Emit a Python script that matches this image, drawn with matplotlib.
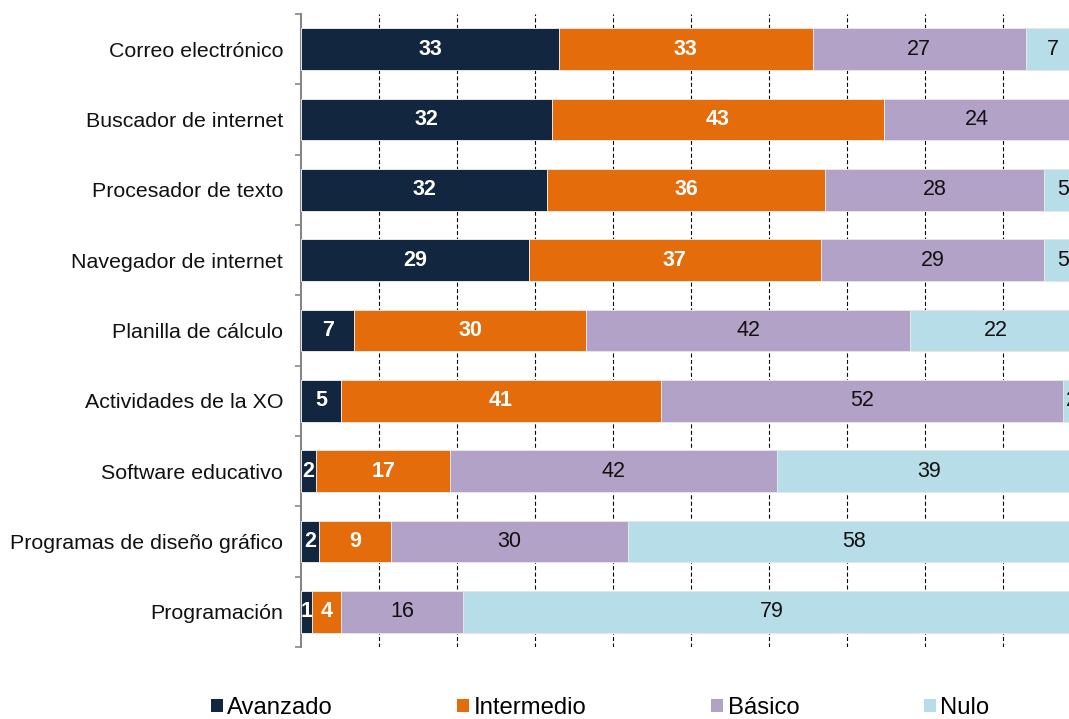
import matplotlib
matplotlib.use("Agg")
import matplotlib.pyplot as plt
import numpy as np
from matplotlib.patches import Patch

plt.rcParams['font.family'] = ['Liberation Sans', 'DejaVu Sans']

categories = ["Correo electrónico", "Buscador de internet", "Procesador de texto",
              "Navegador de internet", "Planilla de cálculo", "Actividades de la XO",
              "Software educativo", "Programas de diseño gráfico", "Programación"]
series_names = ["Avanzado", "Intermedio", "Básico", "Nulo"]
avanzado   = [33.0, 32.1, 31.5, 29.2, 6.8, 5.1, 1.9, 2.3, 1.4]
intermedio = [32.6, 42.6, 35.7, 37.4, 29.7, 41.0, 17.2, 9.2, 3.7]
basico     = [27.3, 24.0, 28.1, 28.7, 41.6, 51.6, 41.9, 30.4, 15.6]
nulo       = [7.1, 1.3, 4.7, 4.7, 22.0, 2.3, 39.0, 58.1, 79.3]
colors = ["#12263f", "#e46c0a", "#b3a2c7", "#b7dde8"]
label_colors = ["white", "white", "#111111", "#111111"]
label_weights = ["bold", "bold", "normal", "normal"]

W, H = 1069, 719
fig = plt.figure(figsize=(W / 100, H / 100), dpi=100)
ax = fig.add_axes([301.3 / W, 1 - 647 / H, 779.7 / W, 633 / H])

y = np.arange(len(categories))
left = np.zeros(len(categories))
for vals, c, lc, lw_ in zip([avanzado, intermedio, basico, nulo], colors, label_colors, label_weights):
    vals = np.array(vals)
    ax.barh(y, vals, left=left, height=0.59, color=c, edgecolor="#e6e6e6",
            linewidth=0.7, zorder=3)
    for yi, (l, v) in enumerate(zip(left, vals)):
        ax.text(l + v / 2, yi, f"{v:.0f}", ha="center", va="center",
                color=lc, fontweight=lw_, fontsize=15.5, zorder=4)
    left = left + vals

ax.set_xlim(0, 100)
ax.set_ylim(len(categories) - 0.5, -0.5)
ax.set_xticks(np.arange(10, 100, 10))
ax.tick_params(axis="x", length=0, labelbottom=False)
ax.grid(axis="x", color="black", linestyle=(0, (3.6, 2.2)), linewidth=0.8, zorder=0)
ax.set_axisbelow(True)

ax.set_yticks(y)
ax.set_yticklabels(categories, fontsize=15.4, color="#111111")
ax.set_yticks(np.arange(-0.5, len(categories), 1.0), minor=True)
ax.tick_params(axis="y", which="major", length=0, pad=13)
ax.tick_params(axis="y", which="minor", length=4, width=1.2, color="#868686", direction="out")

for s in ["top", "right", "bottom"]:
    ax.spines[s].set_visible(False)
ax.spines["left"].set_color("#868686")
ax.spines["left"].set_linewidth(1.5)

handles = [Patch(facecolor=c, edgecolor="none", label=n) for c, n in zip(colors, series_names)]
fig.legend(handles=handles, loc="center", bbox_to_anchor=(600 / W, 1 - 708 / H),
           ncol=4, frameon=False, fontsize=17.2, handlelength=0.5, handleheight=0.5,
           handletextpad=0.2, columnspacing=5.2, borderpad=0, borderaxespad=0)

fig.savefig("out.png", dpi=100)
